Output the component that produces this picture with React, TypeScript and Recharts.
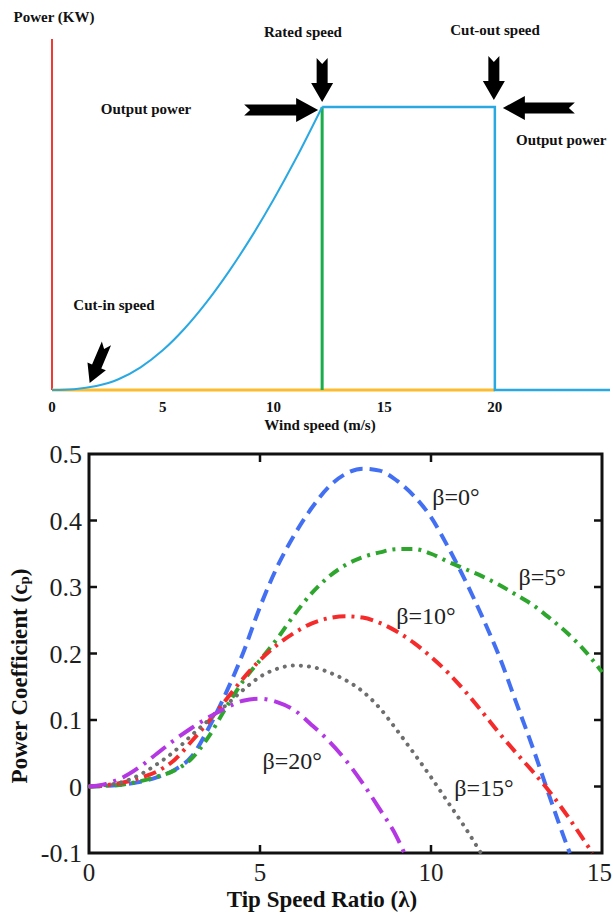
import React from 'react';
import { LineChart, Line, XAxis, YAxis, ReferenceLine, ReferenceDot, ReferenceArea } from 'recharts';

const SERIF = '"Liberation Serif", "Times New Roman", serif';

// ---- top chart: wind turbine power curve (schematic) ----
const WIND_RISE = [0, 1, 2, 3, 4, 5, 6, 7, 8, 9, 10, 11, 12.2];
const POWER_RISE = [0, 0.003, 0.014, 0.038, 0.08, 0.14, 0.218, 0.312, 0.42, 0.54, 0.672, 0.815, 1.0];
const WIND_FLAT = [12.2, 20, 20, 25.2];
const POWER_FLAT = [1, 1, 0, 0];
const WIND_TICKS = [0, 5, 10, 15, 20];
const CUT_IN = 1.7;
const RATED = 12.2;
const CUT_OUT = 20;

// ---- bottom chart: Cp vs tip speed ratio ----
const LAMBDA = [0, 0.5, 1, 1.5, 2, 2.5, 3, 3.5, 4, 4.5, 5, 5.5, 6, 6.5, 7, 7.5, 8, 8.5, 9, 9.5, 10, 10.5, 11, 11.5, 12, 12.5, 13, 13.5, 14, 14.5, 15];
const CP_B0 = [0, 0.001, 0.003, 0.007, 0.014, 0.025, 0.045, 0.088, 0.14, 0.2, 0.27, 0.33, 0.378, 0.418, 0.45, 0.47, 0.478, 0.475, 0.46, 0.437, 0.405, 0.36, 0.31, 0.255, 0.195, 0.125, 0.055, -0.02, -0.092];
const CP_B5 = [0, 0.001, 0.003, 0.008, 0.015, 0.024, 0.042, 0.075, 0.118, 0.158, 0.19, 0.222, 0.258, 0.29, 0.315, 0.333, 0.345, 0.352, 0.357, 0.357, 0.35, 0.338, 0.327, 0.316, 0.303, 0.288, 0.272, 0.252, 0.23, 0.204, 0.172];
const CP_B10 = [0, 0.002, 0.006, 0.013, 0.023, 0.04, 0.068, 0.098, 0.13, 0.162, 0.19, 0.213, 0.231, 0.245, 0.253, 0.256, 0.254, 0.246, 0.233, 0.216, 0.195, 0.171, 0.143, 0.112, 0.08, 0.05, 0.021, -0.01, -0.045, -0.083];
const CP_B15 = [0, 0.002, 0.007, 0.018, 0.034, 0.053, 0.077, 0.1, 0.122, 0.145, 0.165, 0.177, 0.182, 0.18, 0.172, 0.16, 0.143, 0.118, 0.085, 0.05, 0.014, -0.024, -0.062];
const CP_B20 = [0, 0.004, 0.014, 0.03, 0.05, 0.07, 0.088, 0.104, 0.118, 0.129, 0.132, 0.127, 0.115, 0.093, 0.069, 0.04, 0.005, -0.034, -0.076];
// lambda where each curve leaves the plot at Cp = -0.1
const END_B0 = 14.06;
const END_B10 = 14.72;
const END_B15 = 11.46;
const END_B20 = 9.22;
const LAMBDA_TICKS = [0, 5, 10, 15];
const CP_TICKS = [-0.1, 0, 0.1, 0.2, 0.3, 0.4, 0.5];
const LAMBDA_DOMAIN = [0, 15];
const CP_DOMAIN = [-0.1, 0.5];

const BETA_TEXT = ['β=0°', 'β=5°', 'β=10°', 'β=15°', 'β=20°'];
const BETA_AT_LAMBDA = [10.73, 13.25, 9.85, 11.55, 5.94];
const BETA_AT_CP = [0.435, 0.315, 0.256, -0.002, 0.039];

const powerRise = WIND_RISE.map((w, i) => ({ w, p: POWER_RISE[i] }));
const powerFlat = WIND_FLAT.map((w, i) => ({ w, p: POWER_FLAT[i] }));

function cpSeries(values: number[], end?: number) {
  const pts = values.map((cp, i) => ({ lam: LAMBDA[i], cp }));
  if (end !== undefined) pts.push({ lam: end, cp: -0.1 });
  return pts;
}

const b0 = cpSeries(CP_B0, END_B0);
const b5 = cpSeries(CP_B5);
const b10 = cpSeries(CP_B10, END_B10);
const b15 = cpSeries(CP_B15, END_B15);
const b20 = cpSeries(CP_B20, END_B20);

// fat black arrow, tip at (x, y), angle 0 = pointing right
function Arrow({ x, y, angle, len, head, hw, sw }: any) {
  const d = `M0 0 L${-head} ${-hw} L${-head} ${-sw} L${-len} ${-sw} L${-len + 6} 0 L${-len} ${sw} L${-head} ${sw} L${-head} ${hw} Z`;
  return <path d={d} transform={`translate(${x} ${y}) rotate(${angle})`} fill="#000" />;
}

const boldText = { fontFamily: SERIF, fontWeight: 700, fontSize: 15, fill: '#111' };

function PowerCurve() {
  return (
    <LineChart width={613} height={440} margin={{ top: 39, right: 3, bottom: 20, left: 52 }}>
      <XAxis
        dataKey="w"
        type="number"
        domain={[0, 25.2]}
        ticks={WIND_TICKS}
        interval={0}
        axisLine={false}
        tickLine={false}
        tickSize={0}
        tickMargin={11}
        height={30}
        tick={boldText}
      />
      <YAxis hide type="number" domain={[0, 1.24]} />
      <ReferenceLine x={0} stroke="#f03a32" strokeWidth={2} />
      <ReferenceLine segment={[{ x: 0, y: 0 }, { x: CUT_OUT, y: 0 }]} stroke="#fdbb2f" strokeWidth={3} />
      <ReferenceLine segment={[{ x: RATED, y: 0 }, { x: RATED, y: 1 }]} stroke="#1aad4c" strokeWidth={3} />
      <Line data={powerRise} dataKey="p" type="monotone" stroke="#2aa8e2" strokeWidth={2} dot={false} isAnimationActive={false} />
      <Line data={powerFlat} dataKey="p" type="linear" stroke="#2aa8e2" strokeWidth={2.5} dot={false} isAnimationActive={false} />
      <ReferenceDot
        x={RATED}
        y={1}
        ifOverflow="visible"
        shape={(p: any) => (
          <g>
            <Arrow x={p.cx} y={p.cy - 5} angle={90} len={44} head={19} hw={11} sw={5.5} />
            <Arrow x={p.cx - 4} y={p.cy + 3} angle={0} len={74} head={22} hw={12} sw={5.5} />
          </g>
        )}
      />
      <ReferenceDot
        x={CUT_OUT}
        y={1}
        ifOverflow="visible"
        shape={(p: any) => (
          <g>
            <Arrow x={p.cx - 1} y={p.cy - 7} angle={90} len={44} head={19} hw={11} sw={5.5} />
            <Arrow x={p.cx + 8} y={p.cy + 1} angle={180} len={72} head={22} hw={12} sw={5.5} />
          </g>
        )}
      />
      <ReferenceDot
        x={CUT_IN}
        y={0}
        ifOverflow="visible"
        shape={(p: any) => <Arrow x={p.cx} y={p.cy - 7} angle={113} len={43} head={18} hw={10} sw={5} />}
      />
    </LineChart>
  );
}

const tickFont = { fontFamily: SERIF, fontSize: 26, fill: '#1e1e1e' };
const TICK_LEN = 8;

function LambdaTick(props: any) {
  const { x, y, payload } = props;
  const last = payload.value === LAMBDA_TICKS[LAMBDA_TICKS.length - 1];
  return (
    <text
      x={last ? x + 10 : x}
      y={y}
      dy="0.71em"
      textAnchor={last ? 'end' : 'middle'}
      fontFamily={SERIF}
      fontSize={25}
      fill="#1e1e1e"
    >
      {payload.value}
    </text>
  );
}

// box frame with inward ticks on all four sides, laid out on the plot area rect
function Frame(props: any) {
  const { x, y, width, height } = props;
  const [l0, l1] = LAMBDA_DOMAIN;
  const [c0, c1] = CP_DOMAIN;
  const tx = (v: number) => x + ((v - l0) / (l1 - l0)) * width;
  const ty = (v: number) => y + height - ((v - c0) / (c1 - c0)) * height;
  const marks: React.ReactNode[] = [];
  LAMBDA_TICKS.slice(1, -1).forEach((v) => {
    marks.push(<line key={`b${v}`} x1={tx(v)} x2={tx(v)} y1={y + height} y2={y + height - TICK_LEN} />);
    marks.push(<line key={`t${v}`} x1={tx(v)} x2={tx(v)} y1={y} y2={y + TICK_LEN} />);
  });
  CP_TICKS.slice(1, -1).forEach((v) => {
    marks.push(<line key={`l${v}`} x1={x} x2={x + TICK_LEN} y1={ty(v)} y2={ty(v)} />);
    marks.push(<line key={`r${v}`} x1={x + width} x2={x + width - TICK_LEN} y1={ty(v)} y2={ty(v)} />);
  });
  return (
    <g stroke="#111" fill="none">
      <rect x={x} y={y} width={width} height={height} strokeWidth={3} />
      <g strokeWidth={2.5}>{marks}</g>
    </g>
  );
}

function CpChart() {
  return (
    <LineChart width={613} height={473} margin={{ top: 13, right: 11, bottom: 0, left: 0 }}>
      <XAxis
        dataKey="lam"
        type="number"
        domain={LAMBDA_DOMAIN}
        ticks={LAMBDA_TICKS}
        interval={0}
        height={61}
        axisLine={false}
        tickLine={false}
        tickSize={0}
        tickMargin={10}
        tick={<LambdaTick />}
      />
      <YAxis
        type="number"
        domain={CP_DOMAIN}
        ticks={CP_TICKS}
        interval={0}
        width={89}
        axisLine={false}
        tickLine={false}
        tickSize={0}
        tickMargin={7}
        tick={tickFont}
        tickFormatter={(v: number) => String(v)}
      />
      <Line data={b0} dataKey="cp" type="monotone" stroke="#4370f2" strokeWidth={4} strokeDasharray="13 7" dot={false} isAnimationActive={false} />
      <Line data={b5} dataKey="cp" type="monotone" stroke="#2ea62e" strokeWidth={4} strokeDasharray="11 6 3 6" dot={false} isAnimationActive={false} />
      <Line data={b10} dataKey="cp" type="monotone" stroke="#f52a2a" strokeWidth={4} strokeDasharray="13 6 3 6" dot={false} isAnimationActive={false} />
      <Line data={b15} dataKey="cp" type="monotone" stroke="#6e6e6e" strokeWidth={4} strokeDasharray="0.1 8" strokeLinecap="round" dot={false} isAnimationActive={false} />
      <Line data={b20} dataKey="cp" type="monotone" stroke="#b437e4" strokeWidth={4} strokeDasharray="18 7 3 7" dot={false} isAnimationActive={false} />
      <ReferenceArea
        x1={LAMBDA_DOMAIN[0]}
        x2={LAMBDA_DOMAIN[1]}
        y1={CP_DOMAIN[0]}
        y2={CP_DOMAIN[1]}
        ifOverflow="visible"
        shape={<Frame />}
      />
      {BETA_TEXT.map((t, i) => (
        <ReferenceDot
          key={t}
          x={BETA_AT_LAMBDA[i]}
          y={BETA_AT_CP[i]}
          ifOverflow="visible"
          shape={(p: any) => (
            <text x={p.cx} y={p.cy} textAnchor="middle" dominantBaseline="central" fontFamily={SERIF} fontSize={24} fill="#222">
              {t}
            </text>
          )}
        />
      ))}
    </LineChart>
  );
}

export default function App() {
  return (
    <div style={{ position: 'absolute', left: 0, top: 0, width: 613, height: 913, background: '#fff', overflow: 'hidden' }}>
      <div style={{ position: 'absolute', left: 0, top: 0 }}>
        <PowerCurve />
      </div>
      <div style={{ position: 'absolute', left: 0, top: 441 }}>
        <CpChart />
      </div>
      <svg width={613} height={913} style={{ position: 'absolute', left: 0, top: 0, pointerEvents: 'none' }}>
        <g {...boldText} dominantBaseline="central">
          <text x={54} y={17} textAnchor="middle">Power (KW)</text>
          <text x={303} y={32} textAnchor="middle">Rated speed</text>
          <text x={495} y={30} textAnchor="middle">Cut-out speed</text>
          <text x={146} y={109} textAnchor="middle">Output power</text>
          <text x={516} y={140} textAnchor="start">Output power</text>
          <text x={114} y={305} textAnchor="middle">Cut-in speed</text>
          <text x={320} y={425} textAnchor="middle">Wind speed (m/s)</text>
        </g>
        <text x={322} y={899} textAnchor="middle" dominantBaseline="central" fontFamily={SERIF} fontWeight={700} fontSize={23} fill="#111">
          Tip Speed Ratio (λ)
        </text>
        <text
          transform="translate(19 676) rotate(-90)"
          textAnchor="middle"
          dominantBaseline="central"
          fontFamily={SERIF}
          fontWeight={700}
          fontSize={23}
          fill="#111"
        >
          Power Coefficient (c<tspan fontSize={15} dy={5}>p</tspan><tspan dy={-5}>)</tspan>
        </text>
      </svg>
    </div>
  );
}
